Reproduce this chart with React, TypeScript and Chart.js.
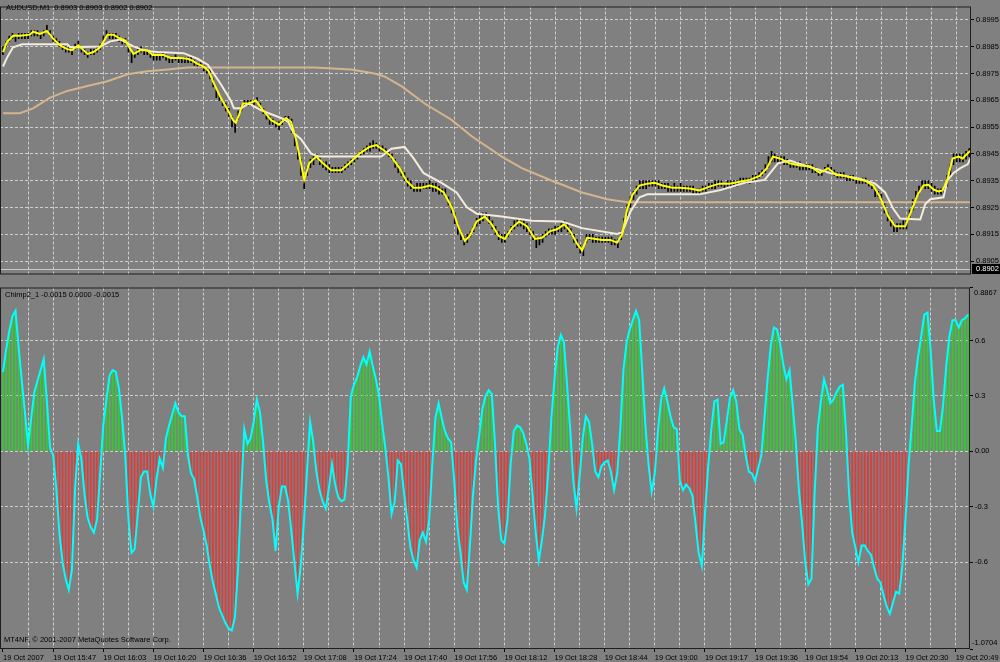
import React, { useEffect, useRef } from "react";
import { Chart, registerables } from "chart.js";
Chart.register(...registerables);

// ---------- data ----------
const timeLabels = [
  "19 Oct 2007", "19 Oct 15:47", "19 Oct 16:03", "19 Oct 16:20", "19 Oct 16:36",
  "19 Oct 16:52", "19 Oct 17:08", "19 Oct 17:24", "19 Oct 17:40", "19 Oct 17:56",
  "19 Oct 18:12", "19 Oct 18:28", "19 Oct 18:44", "19 Oct 19:00", "19 Oct 19:17",
  "19 Oct 19:36", "19 Oct 19:54", "19 Oct 20:13", "19 Oct 20:30", "19 Oct 20:49",
];
const barsPerLabel = 16;
const barsPerGrid = 8;

const barHigh = [
  0.8985,0.8987,0.8989,0.8990,0.8989,0.8990,0.8990,0.8990,0.8990,0.8991,
  0.8991,0.8991,0.8990,0.8991,0.8993,0.8991,0.8989,0.8988,0.8987,0.8986,
  0.8985,0.8985,0.8984,0.8986,0.8987,0.8985,0.8984,0.8983,0.8984,0.8984,
  0.8985,0.8986,0.8989,0.8991,0.8990,0.8990,0.8990,0.8989,0.8988,0.8988,
  0.8986,0.8983,0.8983,0.8984,0.8985,0.8984,0.8984,0.8983,0.8982,0.8982,
  0.8982,0.8983,0.8982,0.8981,0.8981,0.8982,0.8981,0.8981,0.8981,0.8981,
  0.8981,0.8980,0.8979,0.8979,0.8978,0.8977,0.8977,0.8973,0.8969,0.8967,
  0.8965,0.8964,0.8962,0.8959,0.8957,0.8961,0.8963,0.8965,0.8965,0.8965,
  0.8965,0.8966,0.8964,0.8962,0.8960,0.8959,0.8958,0.8957,0.8957,0.8958,
  0.8959,0.8959,0.8958,0.8953,0.8947,0.8943,0.8937,0.8940,0.8943,0.8944,
  0.8945,0.8944,0.8942,0.8942,0.8941,0.8940,0.8940,0.8940,0.8940,0.8941,
  0.8942,0.8943,0.8944,0.8945,0.8946,0.8947,0.8948,0.8949,0.8950,0.8949,
  0.8948,0.8948,0.8947,0.8946,0.8945,0.8943,0.8941,0.8939,0.8938,0.8936,
  0.8935,0.8933,0.8934,0.8934,0.8934,0.8934,0.8935,0.8934,0.8934,0.8933,
  0.8932,0.8932,0.8929,0.8926,0.8923,0.8919,0.8916,0.8914,0.8915,0.8916,
  0.8918,0.8921,0.8922,0.8923,0.8923,0.8922,0.8920,0.8918,0.8916,0.8915,
  0.8915,0.8916,0.8918,0.8920,0.8921,0.8920,0.8920,0.8919,0.8917,0.8916,
  0.8914,0.8914,0.8915,0.8916,0.8917,0.8917,0.8918,0.8918,0.8919,0.8920,
  0.8919,0.8917,0.8915,0.8913,0.8911,0.8910,0.8915,0.8915,0.8915,0.8914,
  0.8914,0.8914,0.8914,0.8914,0.8914,0.8913,0.8913,0.8916,0.8921,0.8926,
  0.8929,0.8931,0.8933,0.8935,0.8935,0.8935,0.8935,0.8935,0.8935,0.8935,
  0.8934,0.8934,0.8934,0.8933,0.8934,0.8933,0.8934,0.8933,0.8933,
  0.8933,0.8933,0.8932,0.8932,0.8933,0.8933,0.8934,0.8934,0.8935,0.8935,
  0.8935,0.8934,0.8935,0.8935,0.8935,0.8935,0.8936,0.8936,0.8936,0.8936,
  0.8937,0.8937,0.8938,0.8939,0.8941,0.8944,0.8946,0.8945,0.8944,0.8944,
  0.8944,0.8943,0.8942,0.8942,0.8942,0.8942,0.8941,0.8941,0.8941,0.8941,
  0.8940,0.8939,0.8939,0.8940,0.8941,0.8940,0.8939,0.8938,0.8938,0.8938,
  0.8937,0.8937,0.8937,0.8936,0.8936,0.8936,0.8936,0.8935,0.8934,0.8932,
  0.8931,0.8930,0.8927,0.8923,0.8921,0.8919,0.8919,0.8919,0.8920,0.8920,
  0.8924,0.8928,0.8931,0.8933,0.8935,0.8935,0.8935,0.8934,0.8933,0.8932,
  0.8932,0.8933,0.8937,0.8941,0.8945,0.8945,0.8945,0.8945,0.8946,0.8947,
];

const barLow = [
  0.8982,0.8985,0.8987,0.8988,0.8987,0.8988,0.8988,0.8988,0.8988,0.8989,
  0.8989,0.8989,0.8988,0.8989,0.8991,0.8989,0.8987,0.8986,0.8985,0.8984,
  0.8983,0.8983,0.8982,0.8984,0.8985,0.8983,0.8982,0.8981,0.8982,0.8982,
  0.8983,0.8984,0.8987,0.8989,0.8988,0.8988,0.8988,0.8987,0.8986,0.8986,
  0.8983,0.8979,0.8981,0.8982,0.8983,0.8982,0.8982,0.8981,0.8980,0.8980,
  0.8980,0.8981,0.8980,0.8979,0.8979,0.8980,0.8979,0.8979,0.8979,0.8979,
  0.8979,0.8978,0.8977,0.8977,0.8976,0.8975,0.8973,0.8970,0.8966,0.8965,
  0.8963,0.8961,0.8959,0.8955,0.8953,0.8958,0.8961,0.8963,0.8963,0.8963,
  0.8963,0.8964,0.8962,0.8960,0.8958,0.8956,0.8956,0.8955,0.8954,0.8956,
  0.8957,0.8957,0.8953,0.8948,0.8943,0.8937,0.8932,0.8937,0.8940,0.8941,
  0.8943,0.8941,0.8940,0.8939,0.8938,0.8938,0.8938,0.8938,0.8938,0.8939,
  0.8940,0.8941,0.8942,0.8943,0.8944,0.8945,0.8946,0.8946,0.8947,0.8947,
  0.8946,0.8946,0.8945,0.8944,0.8943,0.8940,0.8938,0.8937,0.8935,0.8933,
  0.8932,0.8931,0.8931,0.8931,0.8932,0.8932,0.8932,0.8931,0.8931,0.8930,
  0.8930,0.8929,0.8926,0.8923,0.8919,0.8915,0.8913,0.8911,0.8912,0.8914,
  0.8916,0.8918,0.8919,0.8920,0.8921,0.8919,0.8917,0.8915,0.8913,0.8912,
  0.8912,0.8914,0.8916,0.8917,0.8918,0.8918,0.8917,0.8916,0.8915,0.8913,
  0.8910,0.8911,0.8912,0.8914,0.8915,0.8915,0.8915,0.8916,0.8916,0.8917,
  0.8916,0.8915,0.8912,0.8910,0.8908,0.8907,0.8912,0.8913,0.8912,0.8912,
  0.8912,0.8912,0.8912,0.8912,0.8911,0.8911,0.8910,0.8913,0.8917,0.8922,
  0.8925,0.8928,0.8930,0.8932,0.8932,0.8932,0.8933,0.8933,0.8933,0.8932,
  0.8932,0.8932,0.8931,0.8931,0.8931,0.8931,0.8931,0.8931,0.8931,
  0.8931,0.8930,0.8930,0.8930,0.8931,0.8931,0.8932,0.8932,0.8932,0.8933,
  0.8933,0.8932,0.8933,0.8933,0.8933,0.8933,0.8934,0.8934,0.8934,0.8934,
  0.8935,0.8935,0.8936,0.8937,0.8938,0.8940,0.8942,0.8942,0.8942,0.8942,
  0.8941,0.8941,0.8940,0.8940,0.8940,0.8939,0.8939,0.8939,0.8939,0.8938,
  0.8938,0.8937,0.8937,0.8938,0.8939,0.8938,0.8937,0.8936,0.8936,0.8936,
  0.8935,0.8935,0.8935,0.8934,0.8934,0.8934,0.8934,0.8933,0.8932,0.8929,
  0.8929,0.8927,0.8923,0.8920,0.8918,0.8916,0.8916,0.8917,0.8917,0.8917,
  0.8921,0.8924,0.8928,0.8930,0.8932,0.8932,0.8932,0.8931,0.8930,0.8930,
  0.8930,0.8930,0.8933,0.8937,0.8941,0.8942,0.8942,0.8942,0.8943,0.8944,
];

// fast average (yellow): bar index / price
const fastBar = [
  0,1.2,3.2,5.4,8.6,9.6,11.8,14,16,18.2,20.5,22,24,25.3,27,28.8,31,33.3,35.2,36.8,
  39,40.6,41.6,43.8,46,47.7,51.2,53.4,56.6,58.9,60.5,62,64,65.6,67.2,69.4,71.7,73.3,74.2,75.2,
  76.5,78.4,80.6,82.9,85.4,88,90.2,91.8,93.4,95,96,97.6,99.8,102,104.6,107.8,110.4,113.6,116.8,119,
  121.6,123.8,126.4,128.6,130.9,133.4,136,138.2,140.5,143,145.3,147.2,148.8,151,153.6,155.8,158,160,162.2,164.5,
  167,169.6,171.8,174.4,176.6,178.9,180.8,183,184.6,186.2,188.5,191,193.6,195.8,197.4,199,200.6,202.9,205.4,207.7,
  210.2,213.4,215.6,218.8,222,225.2,228.4,231.6,234.8,238,241.2,243.5,245.4,247.6,250.8,254,257.2,260.4,263,265.6,
  268.4,271.6,274.8,277.4,279.6,282.2,284.4,286,287.6,289.2,291.5,293.4,295,296.6,298.2,299.5,301,302.7,304.6,305.9,
  306.8,308.4,
];
const fastPrice = [
  0.89830,0.89866,0.89891,0.89891,0.89895,0.89906,0.89898,0.89909,0.89880,0.89855,0.89841,0.89837,0.89855,0.89841,0.89823,0.89830,0.89848,0.89895,0.89895,0.89884,
  0.89873,0.89841,0.89823,0.89837,0.89837,0.89819,0.89819,0.89808,0.89808,0.89805,0.89797,0.89786,0.89776,0.89758,0.89714,0.89660,0.89613,0.89577,0.89566,0.89595,
  0.89638,0.89638,0.89649,0.89613,0.89577,0.89559,0.89584,0.89570,0.89505,0.89415,0.89353,0.89415,0.89440,0.89415,0.89389,0.89389,0.89415,0.89451,0.89476,0.89483,
  0.89462,0.89440,0.89397,0.89350,0.89324,0.89324,0.89332,0.89324,0.89306,0.89252,0.89173,0.89126,0.89144,0.89198,0.89216,0.89187,0.89144,0.89133,0.89173,0.89198,
  0.89180,0.89133,0.89137,0.89162,0.89169,0.89187,0.89162,0.89115,0.89090,0.89137,0.89133,0.89129,0.89129,0.89119,0.89151,0.89245,0.89296,0.89332,0.89339,0.89342,
  0.89332,0.89324,0.89324,0.89321,0.89314,0.89328,0.89339,0.89339,0.89346,0.89353,0.89368,0.89397,0.89440,0.89433,0.89415,0.89407,0.89404,0.89379,0.89397,0.89371,
  0.89368,0.89357,0.89350,0.89332,0.89288,0.89216,0.89180,0.89180,0.89180,0.89227,0.89296,0.89332,0.89335,0.89317,0.89310,0.89314,0.89353,0.89433,0.89440,0.89433,
  0.89444,0.89462,
];

// slow average (white)
const slowBar = [
  0,1.4,3.2,6.1,20.5,21.4,31,34.2,37.4,39.7,41.6,43.8,47,49.3,57.6,62,65.3,69.4,72.6,73.6,
  75.8,78.4,82.2,88.6,90.9,92.5,95,98.2,100.8,120.6,123.8,128,130.9,134,139.8,144.6,147.8,151,159,168.6,
  178.2,184.6,195.8,197.4,200,202.9,205.4,222,228.4,236.4,242.8,247,250.8,255.6,263.6,273.2,278,281.2,283.8,286,
  292.4,294,295.6,299.8,301,303,305.2,307.5,308.4,
];
const slowPrice = [
  0.89776,0.89812,0.89848,0.89859,0.89859,0.89848,0.89851,0.89870,0.89877,0.89862,0.89851,0.89841,0.89833,0.89830,0.89826,0.89805,0.89783,0.89711,0.89649,0.89620,
  0.89620,0.89638,0.89613,0.89584,0.89570,0.89530,0.89505,0.89451,0.89440,0.89440,0.89469,0.89476,0.89433,0.89379,0.89342,0.89306,0.89252,0.89227,0.89216,0.89201,
  0.89198,0.89173,0.89151,0.89158,0.89234,0.89288,0.89299,0.89299,0.89314,0.89342,0.89353,0.89415,0.89425,0.89407,0.89379,0.89357,0.89339,0.89306,0.89245,0.89209,
  0.89205,0.89263,0.89281,0.89288,0.89350,0.89379,0.89397,0.89411,0.89433,
];

// long average (tan)
const longBar = [
  0,5.4,9.6,15,20.5,26.9,33.3,39.7,46,52.5,58.9,65.3,99.2,111,118.4,121.6,127,134.4,143,149.4,
  159,165.4,175,184.6,192.6,199,308.4,
];
const longPrice = [
  0.89602,0.89602,0.89620,0.89660,0.89685,0.89703,0.89721,0.89747,0.89758,0.89765,0.89772,0.89772,0.89772,0.89765,0.89750,0.89739,0.89703,0.89638,0.89577,0.89516,
  0.89440,0.89397,0.89350,0.89306,0.89281,0.89270,0.89270,
];

// Chimp2 oscillator, one value per bar
const oscValues = [
  0.43,0.55,0.65,0.73,0.76,0.56,0.38,0.21,0.03,0.18,
  0.32,0.38,0.44,0.50,0.27,0.02,-0.02,-0.20,-0.44,-0.60,
  -0.69,-0.75,-0.64,-0.20,0.04,-0.04,-0.23,-0.36,-0.41,-0.44,
  -0.37,-0.12,0.14,0.28,0.41,0.44,0.43,0.34,0.18,-0.02,
  -0.36,-0.55,-0.53,-0.34,-0.14,-0.11,-0.11,-0.23,-0.30,-0.15,
  -0.04,-0.09,0.07,0.14,0.20,0.26,0.21,0.19,0.19,-0.02,
  -0.12,-0.15,-0.25,-0.36,-0.43,-0.51,-0.62,-0.71,-0.78,-0.85,
  -0.89,-0.93,-0.96,-0.97,-0.90,-0.64,-0.23,0.12,0.04,0.07,
  0.16,0.28,0.21,0.05,-0.16,-0.28,-0.37,-0.54,-0.30,-0.19,
  -0.19,-0.27,-0.43,-0.60,-0.77,-0.62,-0.39,-0.11,0.16,0.05,
  -0.11,-0.21,-0.27,-0.31,-0.20,-0.07,-0.18,-0.25,-0.27,-0.26,
  -0.07,0.30,0.36,0.40,0.46,0.51,0.47,0.54,0.46,0.39,
  0.30,0.15,0.02,-0.14,-0.34,-0.27,-0.05,-0.07,-0.23,-0.37,
  -0.52,-0.59,-0.63,-0.48,-0.44,-0.49,-0.37,-0.07,0.18,0.26,
  0.18,0.11,0.07,0.05,-0.16,-0.41,-0.55,-0.71,-0.75,-0.51,
  -0.23,-0.04,0.09,0.23,0.30,0.33,0.31,0.04,-0.30,-0.48,
  -0.50,-0.37,-0.07,0.11,0.14,0.13,0.10,0.04,-0.04,-0.24,
  -0.44,-0.59,-0.48,-0.34,-0.11,0.18,0.39,0.56,0.63,0.59,
  0.36,0.12,-0.16,-0.31,-0.14,0.07,0.19,0.16,0.04,-0.11,
  -0.14,-0.08,-0.06,-0.05,-0.11,-0.21,-0.12,0.12,0.44,0.59,
  0.66,0.71,0.76,0.71,0.43,0.14,-0.07,-0.22,-0.12,0.11,
  0.28,0.34,0.27,0.19,0.13,0.12,-0.16,-0.21,-0.18,
  -0.20,-0.24,-0.39,-0.55,-0.62,-0.34,-0.09,0.11,0.27,0.28,
  0.04,0.05,0.17,0.29,0.33,0.27,0.12,0.09,-0.02,-0.11,
  -0.12,-0.16,-0.09,-0.02,0.18,0.39,0.57,0.67,0.66,0.58,
  0.47,0.39,0.44,0.25,0.05,-0.21,-0.39,-0.60,-0.72,-0.69,
  -0.23,0.12,0.27,0.39,0.33,0.26,0.28,0.32,0.35,0.36,
  0.11,-0.23,-0.44,-0.52,-0.60,-0.51,-0.51,-0.54,-0.56,-0.63,
  -0.69,-0.71,-0.78,-0.84,-0.88,-0.82,-0.76,-0.77,-0.62,-0.37,
  -0.07,0.14,0.37,0.51,0.62,0.74,0.75,0.55,0.28,0.11,
  0.11,0.25,0.46,0.62,0.71,0.71,0.67,0.71,0.72,0.74,
];

const priceTicks = [0.8905,0.8915,0.8925,0.8935,0.8945,0.8955,0.8965,0.8975,0.8985,0.8995];
const priceMin = 0.8900;
const priceMax = 0.9000;
const bidPrice = 0.8902;
const oscTicks = [-0.6, -0.3, 0, 0.3, 0.6];
const oscMin = -1.0704;
const oscMax = 0.8867;

const topTitle = "AUDUSD,M1  0.8903 0.8903 0.8902 0.8902";
const subTitle = "Chimp2_1 -0.0015 0.0000 -0.0015";
const copyright = "MT4NF, \u00A9 2001-2007 MetaQuotes Software Corp.";

// ---------- style ----------
const X_MIN = -0.956;
const X_MAX = 308.57;
const GRID = "#cfcfcf";
const BG = "#808080";
const FONT = '"Liberation Sans", Arial, sans-serif';
const FSIZE = 7.5;

Chart.defaults.font.family = FONT;
Chart.defaults.font.size = FSIZE;
Chart.defaults.color = "#000";

const gridBars: number[] = [];
for (let b = 0; b <= X_MAX; b += barsPerGrid) gridBars.push(b);

const framePlugin = (kind: "top" | "bottom") => ({
  id: "frame_" + kind,
  beforeDatasetsDraw(chart: any) {
    if (kind !== "top") return;
    const { ctx, chartArea: a } = chart;
    const py = Math.round(chart.scales.y.getPixelForValue(bidPrice)) + 0.5;
    ctx.save();
    ctx.strokeStyle = "#c8c8c8";
    ctx.lineWidth = 1;
    ctx.beginPath();
    ctx.moveTo(a.left, py);
    ctx.lineTo(a.right, py);
    ctx.stroke();
    ctx.restore();
  },
  afterDraw(chart: any) {
    const { ctx, chartArea: a } = chart;
    ctx.save();
    ctx.strokeStyle = "#1e1e1e";
    ctx.lineWidth = 1;
    ctx.strokeRect(a.left + 0.5, a.top + 0.5, a.right - a.left - 1, a.bottom - a.top - 1);
    ctx.font = `${FSIZE}px ${FONT}`;
    ctx.textBaseline = "middle";
    ctx.textAlign = "left";
    ctx.fillStyle = "#000";
    if (kind === "top") {
      ctx.fillText(topTitle, 6, 8);
      const py = Math.round(chart.scales.y.getPixelForValue(bidPrice));
      ctx.fillStyle = "#000";
      ctx.fillRect(a.right + 1, py - 5, 29, 10);
      ctx.fillStyle = "#fff";
      ctx.fillText(bidPrice.toFixed(4), a.right + 5, py);
    } else {
      ctx.fillText(subTitle, 5, a.top + 7);
      ctx.fillText(copyright, 4, a.bottom - 9);
      ctx.fillText(oscMax.toFixed(4), a.right + 4, a.top + 5);
      ctx.fillText(oscMin.toFixed(4), a.right + 2, a.bottom - 6);
    }
    ctx.restore();
  },
});

function topConfig(): any {
  return {
    type: "bar",
    data: {
      datasets: [
        {
          type: "line",
          data: fastBar.map((x, i) => ({ x, y: fastPrice[i] })),
          borderColor: "#ffff00",
          borderWidth: 2,
          pointRadius: 0,
          order: 0,
        },
        {
          type: "line",
          data: slowBar.map((x, i) => ({ x, y: slowPrice[i] })),
          borderColor: "#f3ebdc",
          borderWidth: 2,
          pointRadius: 0,
          order: 1,
        },
        {
          type: "line",
          data: longBar.map((x, i) => ({ x, y: longPrice[i] })),
          borderColor: "#d4b48c",
          borderWidth: 2,
          pointRadius: 0,
          order: 2,
        },
        {
          type: "bar",
          data: barHigh.map((h, i) => ({ x: i, y: [barLow[i], h] })),
          backgroundColor: "#000",
          barThickness: 1,
          order: 3,
        },
      ],
    },
    options: {
      responsive: false,
      animation: false,
      events: [],
      layout: { padding: { left: 0, right: 0, top: 2, bottom: 1 } },
      plugins: { legend: { display: false }, tooltip: { enabled: false } },
      scales: {
        x: {
          type: "linear",
          offset: false,
          min: X_MIN,
          max: X_MAX,
          afterBuildTicks: (s: any) => { s.ticks = gridBars.map((v) => ({ value: v })); },
          afterFit: (s: any) => { s.height = 0; },
          ticks: { display: false },
          grid: {
            offset: false,
            color: (c: any) => (c.tick && c.tick.value === 0 ? "rgba(0,0,0,0)" : GRID),
            drawTicks: false,
          },
          border: { display: false, dash: [3, 2] },
        },
        y: {
          position: "right",
          min: priceMin,
          max: priceMax,
          afterBuildTicks: (s: any) => { s.ticks = priceTicks.map((v) => ({ value: v })); },
          afterFit: (s: any) => { s.width = 29; },
          ticks: {
            autoSkip: false,
            padding: 2,
            color: "#000",
            callback: (v: any) => Number(v).toFixed(4),
          },
          grid: { color: GRID, tickColor: "#000", tickLength: 3, drawTicks: true },
          border: { display: false, dash: [3, 2] },
        },
      },
    },
    plugins: [framePlugin("top")],
  };
}

function bottomConfig(): any {
  return {
    type: "bar",
    data: {
      datasets: [
        {
          type: "line",
          data: oscValues.map((v, i) => ({ x: i, y: v })),
          borderColor: "#00ffff",
          borderWidth: 2,
          pointRadius: 0,
          order: 0,
        },
        {
          type: "bar",
          data: oscValues.map((v, i) => ({ x: i, y: v })),
          backgroundColor: oscValues.map((v) => (v >= 0 ? "#32cd32" : "#dc3c3c")),
          barThickness: 1,
          order: 1,
        },
      ],
    },
    options: {
      responsive: false,
      animation: false,
      events: [],
      layout: { padding: { left: 0, right: 0, top: 1, bottom: 0 } },
      plugins: { legend: { display: false }, tooltip: { enabled: false } },
      scales: {
        x: {
          type: "linear",
          offset: false,
          min: X_MIN,
          max: X_MAX,
          afterBuildTicks: (s: any) => { s.ticks = gridBars.map((v) => ({ value: v })); },
          afterFit: (s: any) => { s.height = 13; },
          ticks: {
            autoSkip: false,
            maxRotation: 0,
            minRotation: 0,
            align: "start",
            padding: 1,
            color: "#000",
            callback: (v: any) => (v % barsPerLabel === 0 ? timeLabels[v / barsPerLabel] : ""),
          },
          grid: {
            offset: false,
            color: (c: any) => (c.tick && c.tick.value === 0 ? "rgba(0,0,0,0)" : GRID),
            tickColor: (c: any) => (c.tick && c.tick.value % barsPerLabel === 0 ? "#000" : "rgba(0,0,0,0)"),
            tickLength: 3,
            drawTicks: true,
          },
          border: { display: false, dash: [3, 2] },
        },
        y: {
          position: "right",
          min: oscMin,
          max: oscMax,
          afterBuildTicks: (s: any) => {
            s.ticks = [oscMin, ...oscTicks, oscMax].map((v) => ({ value: v }));
          },
          afterFit: (s: any) => { s.width = 29; },
          ticks: {
            autoSkip: false,
            padding: 2,
            color: "#000",
            callback: (v: any) =>
              v === oscMin || v === oscMax ? "" : v === 0 ? "0.00" : Number(v).toFixed(1),
          },
          grid: {
            color: (c: any) =>
              c.tick && (c.tick.value === oscMin || c.tick.value === oscMax) ? "rgba(0,0,0,0)" : GRID,
            tickColor: "#000",
            tickLength: 3,
            drawTicks: true,
          },
          border: { display: false, dash: [3, 2] },
        },
      },
    },
    plugins: [framePlugin("bottom")],
  };
}

export default function App() {
  const topRef = useRef<HTMLCanvasElement>(null);
  const botRef = useRef<HTMLCanvasElement>(null);
  useEffect(() => {
    document.body.style.margin = "0";
    const c1 = new Chart(topRef.current as HTMLCanvasElement, topConfig());
    const c2 = new Chart(botRef.current as HTMLCanvasElement, bottomConfig());
    return () => {
      c1.destroy();
      c2.destroy();
    };
  }, []);
  return (
    <div
      style={{
        position: "absolute",
        left: 0,
        top: 0,
        width: 1000,
        height: 662,
        background: BG,
        overflow: "hidden",
      }}
    >
      <canvas
        ref={topRef}
        width={1000}
        height={281}
        style={{ position: "absolute", left: 0, top: 0, width: 1000, height: 281 }}
      />
      <canvas
        ref={botRef}
        width={1000}
        height={381}
        style={{ position: "absolute", left: 0, top: 281, width: 1000, height: 381 }}
      />
    </div>
  );
}
